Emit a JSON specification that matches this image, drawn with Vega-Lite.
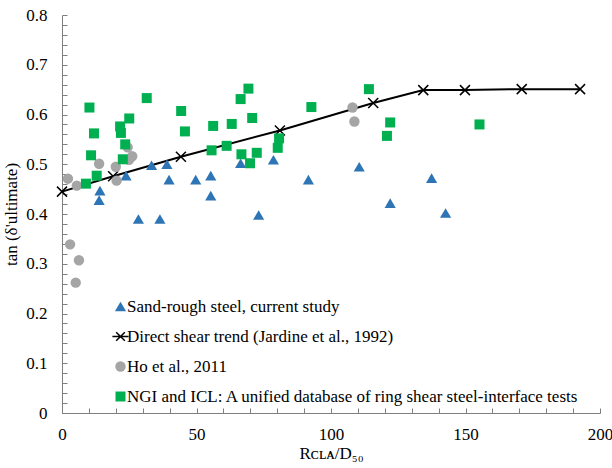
{
  "$schema": "https://vega.github.io/schema/vega-lite/v6.json",
  "width": 538,
  "height": 398,
  "autosize": {"type": "none"},
  "padding": {"left": 62, "top": 15, "right": 12, "bottom": 55},
  "background": "white",
  "config": {
    "font": "'Liberation Serif', 'Times New Roman', serif",
    "view": {"stroke": null},
    "axis": {
      "grid": false,
      "domainColor": "#7f7f7f",
      "tickColor": "#7f7f7f",
      "labelColor": "#000000",
      "titleColor": "#000000",
      "labelFont": "'Liberation Serif', 'Times New Roman', serif",
      "titleFont": "'Liberation Serif', 'Times New Roman', serif",
      "labelFontSize": 17,
      "titleFontSize": 17,
      "titleFontWeight": "normal",
      "tickSize": -5,
      "domainWidth": 1,
      "tickWidth": 1,
      "labelFlush": false,
      "labelOverlap": false
    },
    "legend": {
      "labelFont": "'Liberation Serif', 'Times New Roman', serif"
    }
  },
  "data": {
    "values": [
      {"series": "Direct shear trend (Jardine et al., 1992)", "x": 0, "y": 0.445},
      {"series": "Direct shear trend (Jardine et al., 1992)", "x": 19, "y": 0.476},
      {"series": "Direct shear trend (Jardine et al., 1992)", "x": 44.2, "y": 0.515},
      {"series": "Direct shear trend (Jardine et al., 1992)", "x": 81, "y": 0.568},
      {"series": "Direct shear trend (Jardine et al., 1992)", "x": 115.7, "y": 0.623},
      {"series": "Direct shear trend (Jardine et al., 1992)", "x": 134.3, "y": 0.649},
      {"series": "Direct shear trend (Jardine et al., 1992)", "x": 149.8, "y": 0.649},
      {"series": "Direct shear trend (Jardine et al., 1992)", "x": 170.9, "y": 0.651},
      {"series": "Direct shear trend (Jardine et al., 1992)", "x": 192.6, "y": 0.651},

      {"series": "Sand-rough steel, current study", "x": 14.1, "y": 0.447},
      {"series": "Sand-rough steel, current study", "x": 13.8, "y": 0.428},
      {"series": "Sand-rough steel, current study", "x": 23.8, "y": 0.477},
      {"series": "Sand-rough steel, current study", "x": 28.4, "y": 0.39},
      {"series": "Sand-rough steel, current study", "x": 33.3, "y": 0.498},
      {"series": "Sand-rough steel, current study", "x": 36.4, "y": 0.39},
      {"series": "Sand-rough steel, current study", "x": 39, "y": 0.5},
      {"series": "Sand-rough steel, current study", "x": 39.8, "y": 0.469},
      {"series": "Sand-rough steel, current study", "x": 49.7, "y": 0.469},
      {"series": "Sand-rough steel, current study", "x": 55.3, "y": 0.477},
      {"series": "Sand-rough steel, current study", "x": 55.3, "y": 0.437},
      {"series": "Sand-rough steel, current study", "x": 66.4, "y": 0.502},
      {"series": "Sand-rough steel, current study", "x": 73.1, "y": 0.398},
      {"series": "Sand-rough steel, current study", "x": 78.6, "y": 0.509},
      {"series": "Sand-rough steel, current study", "x": 91.6, "y": 0.469},
      {"series": "Sand-rough steel, current study", "x": 110.5, "y": 0.495},
      {"series": "Sand-rough steel, current study", "x": 122, "y": 0.422},
      {"series": "Sand-rough steel, current study", "x": 137.4, "y": 0.472},
      {"series": "Sand-rough steel, current study", "x": 142.6, "y": 0.402},

      {"series": "Ho et al., 2011", "x": 2.2, "y": 0.471},
      {"series": "Ho et al., 2011", "x": 5.5, "y": 0.457},
      {"series": "Ho et al., 2011", "x": 13.8, "y": 0.501},
      {"series": "Ho et al., 2011", "x": 20, "y": 0.495},
      {"series": "Ho et al., 2011", "x": 20.3, "y": 0.467},
      {"series": "Ho et al., 2011", "x": 24.4, "y": 0.534},
      {"series": "Ho et al., 2011", "x": 26.1, "y": 0.516},
      {"series": "Ho et al., 2011", "x": 24.9, "y": 0.509},
      {"series": "Ho et al., 2011", "x": 3, "y": 0.339},
      {"series": "Ho et al., 2011", "x": 6.3, "y": 0.307},
      {"series": "Ho et al., 2011", "x": 5.1, "y": 0.262},
      {"series": "Ho et al., 2011", "x": 108, "y": 0.614},
      {"series": "Ho et al., 2011", "x": 108.7, "y": 0.586},

      {"series": "NGI and ICL: A unified database of ring shear steel-interface tests", "x": 10.2, "y": 0.614},
      {"series": "NGI and ICL: A unified database of ring shear steel-interface tests", "x": 11.9, "y": 0.562},
      {"series": "NGI and ICL: A unified database of ring shear steel-interface tests", "x": 10.8, "y": 0.518},
      {"series": "NGI and ICL: A unified database of ring shear steel-interface tests", "x": 12.9, "y": 0.477},
      {"series": "NGI and ICL: A unified database of ring shear steel-interface tests", "x": 8.9, "y": 0.461},
      {"series": "NGI and ICL: A unified database of ring shear steel-interface tests", "x": 21.6, "y": 0.576},
      {"series": "NGI and ICL: A unified database of ring shear steel-interface tests", "x": 21.9, "y": 0.563},
      {"series": "NGI and ICL: A unified database of ring shear steel-interface tests", "x": 25, "y": 0.592},
      {"series": "NGI and ICL: A unified database of ring shear steel-interface tests", "x": 23.5, "y": 0.54},
      {"series": "NGI and ICL: A unified database of ring shear steel-interface tests", "x": 22.6, "y": 0.51},
      {"series": "NGI and ICL: A unified database of ring shear steel-interface tests", "x": 31.5, "y": 0.633},
      {"series": "NGI and ICL: A unified database of ring shear steel-interface tests", "x": 44.3, "y": 0.607},
      {"series": "NGI and ICL: A unified database of ring shear steel-interface tests", "x": 45.7, "y": 0.566},
      {"series": "NGI and ICL: A unified database of ring shear steel-interface tests", "x": 56.2, "y": 0.577},
      {"series": "NGI and ICL: A unified database of ring shear steel-interface tests", "x": 55.6, "y": 0.528},
      {"series": "NGI and ICL: A unified database of ring shear steel-interface tests", "x": 61.2, "y": 0.537},
      {"series": "NGI and ICL: A unified database of ring shear steel-interface tests", "x": 63.1, "y": 0.581},
      {"series": "NGI and ICL: A unified database of ring shear steel-interface tests", "x": 66.4, "y": 0.631},
      {"series": "NGI and ICL: A unified database of ring shear steel-interface tests", "x": 69.3, "y": 0.652},
      {"series": "NGI and ICL: A unified database of ring shear steel-interface tests", "x": 70.7, "y": 0.593},
      {"series": "NGI and ICL: A unified database of ring shear steel-interface tests", "x": 66.7, "y": 0.52},
      {"series": "NGI and ICL: A unified database of ring shear steel-interface tests", "x": 72.4, "y": 0.523},
      {"series": "NGI and ICL: A unified database of ring shear steel-interface tests", "x": 69.9, "y": 0.502},
      {"series": "NGI and ICL: A unified database of ring shear steel-interface tests", "x": 80.7, "y": 0.552},
      {"series": "NGI and ICL: A unified database of ring shear steel-interface tests", "x": 80.2, "y": 0.533},
      {"series": "NGI and ICL: A unified database of ring shear steel-interface tests", "x": 92.7, "y": 0.615},
      {"series": "NGI and ICL: A unified database of ring shear steel-interface tests", "x": 114.1, "y": 0.651},
      {"series": "NGI and ICL: A unified database of ring shear steel-interface tests", "x": 122, "y": 0.584},
      {"series": "NGI and ICL: A unified database of ring shear steel-interface tests", "x": 120.8, "y": 0.557},
      {"series": "NGI and ICL: A unified database of ring shear steel-interface tests", "x": 155.2, "y": 0.58}
    ]
  },
  "encoding": {
    "x": {
      "field": "x",
      "type": "quantitative",
      "scale": {"domain": [0, 200], "nice": false},
      "axis": {
        "title": "Rᴄʟᴀ/D₅₀",
        "values": [0, 10, 20, 30, 40, 50, 60, 70, 80, 90, 100, 110, 120, 130, 140, 150, 160, 170, 180, 190, 200],
        "labelExpr": "datum.value % 50 === 0 ? datum.label : ''",
        "labelPadding": 18,
        "titlePadding": 3
      }
    },
    "y": {
      "field": "y",
      "type": "quantitative",
      "scale": {"domain": [0, 0.8], "nice": false},
      "axis": {
        "title": "tan (δ'ultimate)",
        "values": [0, 0.02, 0.04, 0.06, 0.08, 0.1, 0.12, 0.14, 0.16, 0.18, 0.2, 0.22, 0.24, 0.26, 0.28, 0.3, 0.32, 0.34, 0.36, 0.38, 0.4, 0.42, 0.44, 0.46, 0.48, 0.5, 0.52, 0.54, 0.56, 0.58, 0.6, 0.62, 0.64, 0.66, 0.68, 0.7, 0.72, 0.74, 0.76, 0.78, 0.8],
        "labelExpr": "abs(datum.value * 10 - round(datum.value * 10)) < 0.001 ? (datum.value === 0 ? '0' : format(datum.value, '.1f')) : ''",
        "labelPadding": 20,
        "titlePadding": 5
      }
    }
  },
  "layer": [
    {
      "transform": [{"filter": "datum.series === 'Direct shear trend (Jardine et al., 1992)'"}],
      "mark": {"type": "line", "color": "#000000", "strokeWidth": 2}
    },
    {
      "transform": [{"filter": "datum.series === 'Direct shear trend (Jardine et al., 1992)'"}],
      "mark": {"type": "point", "shape": "M-1,-1L1,1M-1,1L1,-1", "filled": false, "stroke": "#000000", "strokeWidth": 1.5, "size": 100, "opacity": 1}
    },
    {
      "transform": [{"filter": "datum.series !== 'Direct shear trend (Jardine et al., 1992)'"}],
      "mark": {"type": "point", "filled": true, "opacity": 1, "strokeWidth": 1.5},
      "encoding": {
        "color": {
          "field": "series",
          "type": "nominal",
          "scale": {
            "domain": ["Sand-rough steel, current study", "Direct shear trend (Jardine et al., 1992)", "Ho et al., 2011", "NGI and ICL: A unified database of ring shear steel-interface tests"],
            "range": ["#2E75B6", "#000000", "#A5A5A5", "#00B050"]
          },
          "legend": {
            "title": null,
            "orient": "none",
            "legendX": 50,
            "legendY": 283,
            "padding": 0,
            "labelFont": "'Liberation Serif', 'Times New Roman', serif",
            "labelFontSize": 17,
            "labelColor": "#000000",
            "labelLimit": 600,
            "symbolSize": 80,
            "rowPadding": 12,
            "labelOffset": -2
          }
        },
        "shape": {
          "field": "series",
          "type": "nominal",
          "scale": {
            "domain": ["Sand-rough steel, current study", "Direct shear trend (Jardine et al., 1992)", "Ho et al., 2011", "NGI and ICL: A unified database of ring shear steel-interface tests"],
            "range": ["triangle-up", "M-1.5,0L1.5,0M-0.8,-0.8L0.8,0.8M-0.8,0.8L0.8,-0.8", "circle", "square"]
          }
        },
        "stroke": {
          "field": "series",
          "type": "nominal",
          "scale": {
            "domain": ["Sand-rough steel, current study", "Direct shear trend (Jardine et al., 1992)", "Ho et al., 2011", "NGI and ICL: A unified database of ring shear steel-interface tests"],
            "range": ["transparent", "#000000", "transparent", "transparent"]
          }
        },
        "size": {
          "field": "series",
          "type": "nominal",
          "scale": {
            "domain": ["Sand-rough steel, current study", "Direct shear trend (Jardine et al., 1992)", "Ho et al., 2011", "NGI and ICL: A unified database of ring shear steel-interface tests"],
            "range": [125, 100, 90, 95]
          },
          "legend": null
        }
      }
    }
  ]
}
